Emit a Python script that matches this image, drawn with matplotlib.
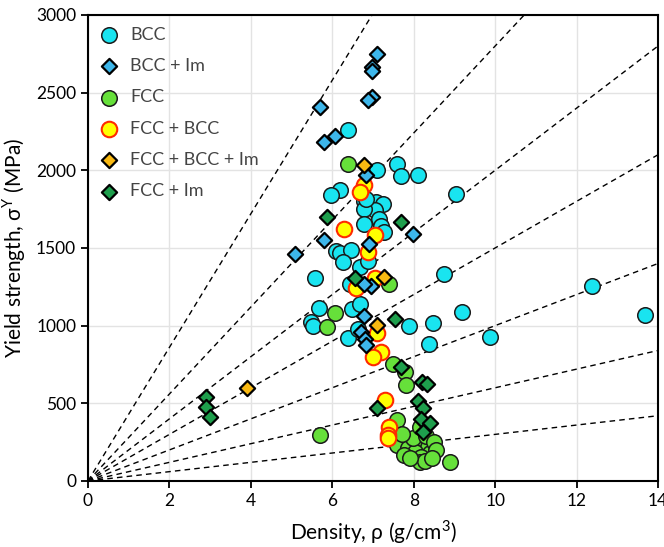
import numpy as np
import matplotlib.pyplot as plt

plt.rcParams['font.family'] = ['Lato', 'DejaVu Sans']

# density (g/cm3) and yield strength (MPa) for each phase group
bcc_rho = [6.39, 7.09, 7.59, 7.69, 8.10, 6.18, 5.98, 6.78, 7.07, 7.25, 7.05, 6.78,
           7.15, 7.20, 7.28, 6.78, 9.05, 6.10, 6.20, 6.47, 6.27, 5.58, 6.67, 6.88,
           6.43, 8.74, 5.67, 5.48, 5.52, 6.49, 6.69, 6.39, 6.64, 7.89, 8.48, 9.18,
           8.37, 9.88, 12.37, 13.69, 6.83]
bcc_sy = [2257, 2000, 2038, 1966, 1968, 1870, 1841, 1805, 1794, 1783, 1745, 1751,
          1687, 1644, 1601, 1654, 1845, 1483, 1468, 1489, 1408, 1305, 1376, 1418,
          1268, 1330, 1112, 1021, 1000, 1107, 1140, 918, 976, 998, 1019, 1090,
          880, 929, 1255, 1067, 1818]

bccim_rho = [7.10, 6.98, 6.98, 6.98, 6.87, 5.69, 5.79, 6.07, 6.83, 5.79, 5.09, 7.98,
             6.91, 6.96, 6.78, 6.77, 6.70, 6.80, 6.82]
bccim_sy = [2751, 2666, 2640, 2470, 2453, 2406, 2181, 2219, 1972, 1554, 1464, 1592,
            1526, 1258, 1265, 1064, 958, 912, 875]

fcc_rho = [6.39, 7.39, 6.07, 5.87, 5.70, 7.48, 7.78, 7.81, 8.90, 7.60, 7.60, 7.86,
           8.10, 8.35, 8.40, 8.02, 7.77, 8.18, 7.98, 8.30, 8.50, 8.55, 8.15, 8.28,
           7.90, 8.45, 7.70, 8.15]
fcc_sy = [2043, 1268, 1079, 989, 296, 753, 702, 620, 120, 393, 232, 210,
          264, 221, 178, 189, 167, 157, 275, 290, 250, 200, 120, 130,
          150, 150, 300, 350]

fccbcc_rho = [6.78, 6.67, 6.28, 7.06, 6.87, 6.58, 7.06, 7.09, 7.19, 7.00, 7.30,
              7.40, 7.38, 7.38]
fccbcc_sy = [1908, 1863, 1622, 1584, 1472, 1240, 1307, 950, 828, 796, 521,
             350, 296, 275]

fccbccim_rho = [6.78, 7.27, 7.09, 3.91]
fccbccim_sy = [2034, 1311, 1006, 597]

fccim_rho = [5.88, 7.69, 6.57, 7.54, 7.69, 8.21, 8.32, 7.09, 8.10, 8.22, 8.18,
             8.39, 8.22, 2.90, 2.90, 3.00]
fccim_sy = [1702, 1667, 1305, 1043, 736, 640, 622, 468, 515, 470, 400,
            372, 318, 543, 479, 412]

# specific strength guide lines (MPa per g/cm3)
slopes = [30, 60, 100, 150, 200, 280, 430]

fig = plt.figure(figsize=(6.64, 5.47), dpi=100)
ax = fig.add_axes([0.1325, 0.1207, 0.8585, 0.852])

xs = np.array([0, 14])
for s in slopes:
    ax.plot(xs, s * xs, color='black', linestyle=(0, (4, 3)), linewidth=1.0, zorder=1)

circ = dict(marker='o', s=125, edgecolors='#1a1a1a', linewidths=1.1, zorder=3)
diam = dict(marker='D', s=60, edgecolors='black', linewidths=1.6, zorder=4)

ax.scatter(bcc_rho, bcc_sy, c='#19e4f0', label='BCC', **circ)
ax.scatter(bccim_rho, bccim_sy, c='#3db6ea', label='BCC + Im', **diam)
ax.scatter(fcc_rho, fcc_sy, c='#66e03a', label='FCC', **circ)
ax.scatter(fccbcc_rho, fccbcc_sy, c='#ffff00', marker='o', s=125,
           edgecolors='#ff2a00', linewidths=1.5, zorder=3, label='FCC + BCC')
ax.scatter(fccbccim_rho, fccbccim_sy, c='#f9b912', label='FCC + BCC + Im', **diam)
ax.scatter(fccim_rho, fccim_sy, c='#1e9e4c', label='FCC + Im', **diam)

ax.set_xlim(0, 14)
ax.set_ylim(0, 3000)
ax.set_xticks(range(0, 15, 2))
ax.set_yticks(range(0, 3001, 500))
ax.grid(True, color='#e3e3e3', linewidth=1.0, zorder=0)
ax.set_axisbelow(True)
for sp in ax.spines.values():
    sp.set_linewidth(1.5)
ax.tick_params(direction='out', length=5, width=1.3, labelsize=12.5)

ax.set_xlabel('Density, ρ (g/cm$^\\mathregular{3}$)', fontsize=15, labelpad=7)
ax.set_ylabel('Yield strength, σ$^\\mathregular{Y}$ (MPa)', fontsize=15, labelpad=6)

leg = ax.legend(loc='upper left', frameon=False, fontsize=13, labelspacing=0.85,
                handlelength=1.0, handletextpad=0.7, borderaxespad=0.25,
                scatterpoints=1)
for t in leg.get_texts():
    t.set_color('#444444')

fig.savefig('out.png', dpi=100)
